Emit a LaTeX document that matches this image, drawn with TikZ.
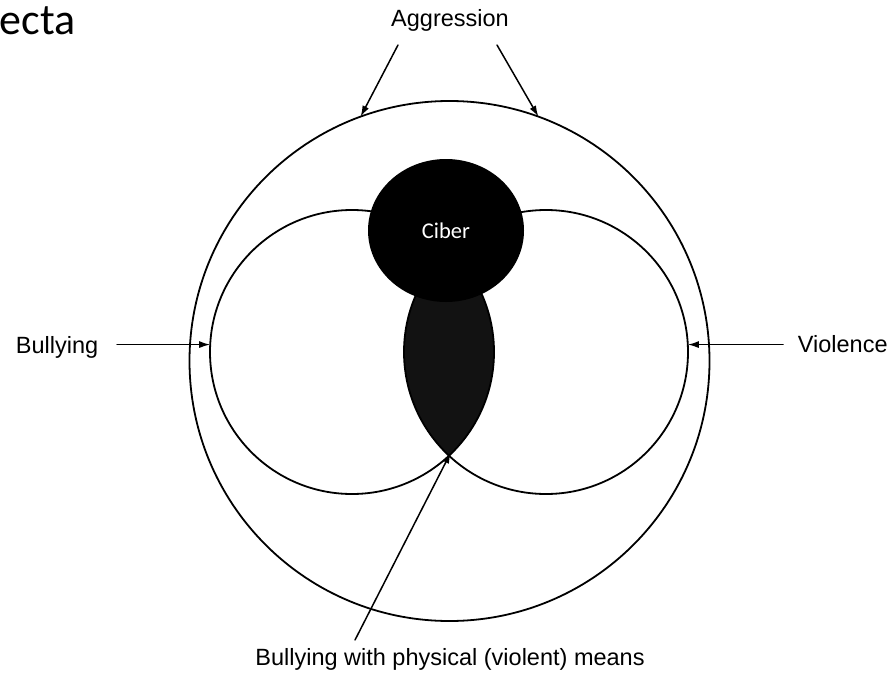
\documentclass[tikz,border=0pt]{standalone}
\usepackage{fontspec}
\setmainfont{Liberation Sans}
\newfontfamily\calibri{Carlito}
\usetikzlibrary{arrows.meta,shapes.geometric}
\tikzstyle{ring}=[circle,draw,inner sep=0pt,outer sep=0pt]
\tikzstyle{lbl}=[font=\fontsize{23.5}{28}\selectfont,inner sep=0pt]
\tikzstyle{arr}=[-{Latex[length=11pt,width=7pt]},line width=1.5pt]

\begin{document}
\begin{tikzpicture}[x=1pt,y=-1pt,line width=1.8pt,line cap=round,line join=round]
%Aggression / bullying / violence model
	\newcommand\Dbig{520pt} %diameter of the outer circle
	\newcommand\Dsmall{284pt} %diameter of the two inner circles
	\useasboundingbox (0,0) rectangle (892,677);
	\node[anchor=base west,inner sep=0pt,font=\calibri\fontsize{44}{50}\selectfont] (ecta) at (-1,35) {ecta};
	%CIRCLES
	\node[ring,minimum size=\Dbig] (aggr) at (449.5,361) {}; %% aggr is the outer circle
	\begin{scope}
		\clip (352,352) circle (142pt);
		\fill[black!93] (546,352) circle (142pt); %% the lens where both inner circles meet
	\end{scope}
	\node[ring,minimum size=\Dsmall] (bully) at (352,352) {}; %% bully is the left circle
	\node[ring,minimum size=\Dsmall] (viol) at (546,352) {}; %% viol is the right circle
	\coordinate (lensB) at (449,456); %% lensB is the bottom tip of the lens
	\node[ellipse,fill=black,minimum width=156pt,minimum height=143pt,inner sep=0pt,text=white,font=\calibri\fontsize{22.5}{27}\selectfont] (ciber) at (446,230.5) {Ciber};
	%LABELS
	\node[lbl,anchor=base] (agg) at (450,27) {Aggression};
	\node[lbl,anchor=base west] (bul) at (15,353) {Bullying};
	\node[lbl,anchor=base west] (vio) at (797,352) {Violence};
	\node[lbl,anchor=base] (phys) at (450,665) {Bullying with physical (violent) means};
	% Arrows
	\coordinate (aggL) at (398,45);
	\coordinate (aggR) at (497,45);
	\coordinate (physT) at (355,640);
	\draw[arr] (aggL) -- (aggr.110);
	\draw[arr] (aggR) -- (aggr.70);
	\draw[arr] (bully.177 -| bul.east) ++(18,0) -- (bully.177);
	\draw[arr] (viol.3 -| vio.west) ++(-14,0) -- (viol.3);
	\draw[arr,shorten >=-4pt] (physT) -- (lensB);
\end{tikzpicture}
\end{document}
